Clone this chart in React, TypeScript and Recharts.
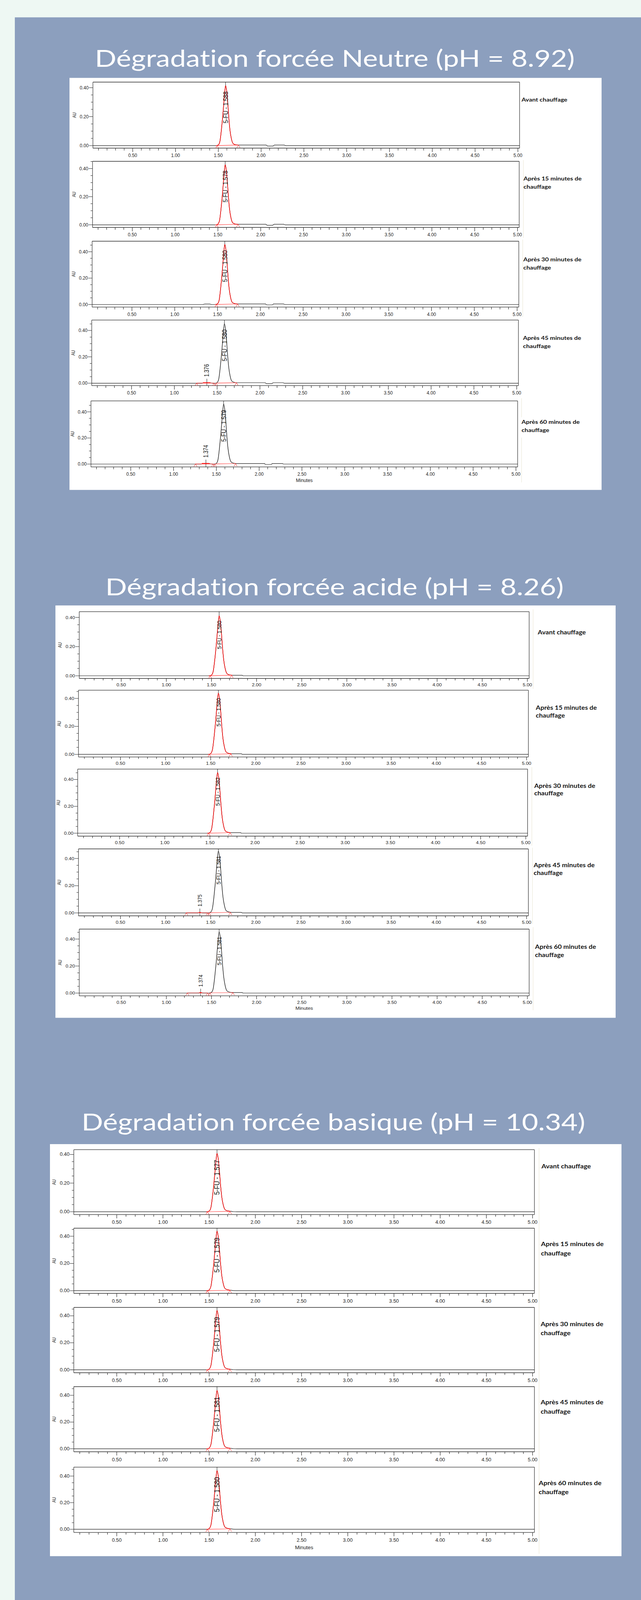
import React from 'react';
import { ComposedChart, Line, XAxis, YAxis, ReferenceLine, Scatter } from 'recharts';

// ---------------- data ----------------
const X_DOMAIN: [number, number] = [0.035, 5.02];
const X_TICKS = [0.1, 0.2, 0.3, 0.4, 0.5, 0.6, 0.7, 0.8, 0.9, 1.0, 1.1, 1.2, 1.3, 1.4, 1.5, 1.6, 1.7, 1.8, 1.9, 2.0,
  2.1, 2.2, 2.3, 2.4, 2.5, 2.6, 2.7, 2.8, 2.9, 3.0, 3.1, 3.2, 3.3, 3.4, 3.5, 3.6, 3.7, 3.8, 3.9, 4.0,
  4.1, 4.2, 4.3, 4.4, 4.5, 4.6, 4.7, 4.8, 4.9, 5.0];
const X_MAJOR = [0.5, 1, 1.5, 2, 2.5, 3, 3.5, 4, 4.5, 5];
const X_LABELS = ['0.50', '1.00', '1.50', '2.00', '2.50', '3.00', '3.50', '4.00', '4.50', '5.00'];
const Y_TICKS = [0, 0.05, 0.1, 0.15, 0.2, 0.25, 0.3, 0.35, 0.4, 0.45];
const Y_MAJOR = [0, 0.2, 0.4];
const Y_LABELS = ['0.00', '0.20', '0.40'];

const TITLES = [
  'Dégradation forcée Neutre (pH = 8.92)',
  'Dégradation forcée acide (pH = 8.26)',
  'Dégradation forcée basique (pH = 10.34)',
];
const CONDITIONS = [
  ['Avant chauffage'],
  ['Après 15 minutes de', 'chauffage'],
  ['Après 30 minutes de', 'chauffage'],
  ['Après 45 minutes de', 'chauffage'],
  ['Après 60 minutes de', 'chauffage'],
];

const APEX_T = 1.585;
const PEAK_T = [1.47, 1.487, 1.505, 1.52, 1.536, 1.551, 1.565, 1.577, 1.585, 1.597, 1.611, 1.622, 1.636, 1.652, 1.672, 1.70, 1.73];

const S1_PK = [
  [0, 0.001, 0.008, 0.033, 0.108, 0.199, 0.298, 0.381, 0.414, 0.381, 0.290, 0.199, 0.108, 0.050, 0.015, 0.006, 0.004],
  [0, 0.001, 0.009, 0.034, 0.111, 0.205, 0.307, 0.393, 0.427, 0.393, 0.299, 0.205, 0.111, 0.051, 0.015, 0.006, 0.004],
  [0, 0.001, 0.009, 0.036, 0.119, 0.219, 0.328, 0.420, 0.456, 0.420, 0.319, 0.219, 0.119, 0.055, 0.016, 0.007, 0.004],
  [0, 0.001, 0.009, 0.036, 0.118, 0.217, 0.325, 0.416, 0.452, 0.416, 0.316, 0.217, 0.118, 0.054, 0.016, 0.007, 0.004],
  [0, 0.001, 0.009, 0.037, 0.120, 0.221, 0.331, 0.423, 0.460, 0.423, 0.322, 0.221, 0.120, 0.055, 0.017, 0.007, 0.004],
];
const S2_PK = [
  [0, 0.001, 0.008, 0.033, 0.107, 0.197, 0.296, 0.378, 0.411, 0.378, 0.288, 0.197, 0.107, 0.049, 0.015, 0.006, 0.004],
  [0, 0.001, 0.009, 0.035, 0.114, 0.210, 0.315, 0.403, 0.438, 0.403, 0.307, 0.210, 0.114, 0.053, 0.016, 0.007, 0.004],
  [0, 0.001, 0.009, 0.036, 0.118, 0.217, 0.325, 0.416, 0.452, 0.416, 0.316, 0.217, 0.118, 0.054, 0.016, 0.007, 0.004],
  [0, 0.001, 0.009, 0.036, 0.118, 0.218, 0.328, 0.419, 0.455, 0.419, 0.319, 0.218, 0.118, 0.055, 0.016, 0.007, 0.004],
  [0, 0.001, 0.009, 0.036, 0.118, 0.217, 0.326, 0.417, 0.453, 0.417, 0.317, 0.217, 0.118, 0.054, 0.016, 0.007, 0.004],
];
const S3_PK = [
  [0, 0.001, 0.008, 0.033, 0.106, 0.196, 0.294, 0.375, 0.408, 0.375, 0.286, 0.196, 0.106, 0.049, 0.015, 0.006, 0.004],
  [0, 0.001, 0.009, 0.035, 0.114, 0.210, 0.315, 0.403, 0.438, 0.403, 0.307, 0.210, 0.114, 0.053, 0.016, 0.007, 0.004],
  [0, 0.001, 0.009, 0.035, 0.114, 0.211, 0.317, 0.405, 0.440, 0.405, 0.308, 0.211, 0.114, 0.053, 0.016, 0.007, 0.004],
  [0, 0.001, 0.009, 0.035, 0.114, 0.210, 0.315, 0.402, 0.437, 0.402, 0.306, 0.210, 0.114, 0.052, 0.016, 0.007, 0.004],
  [0, 0.001, 0.009, 0.035, 0.115, 0.212, 0.318, 0.406, 0.441, 0.406, 0.309, 0.212, 0.115, 0.053, 0.016, 0.007, 0.004],
];
const S1_APEX = [0.414, 0.427, 0.456, 0.452, 0.460];
const S2_APEX = [0.411, 0.438, 0.452, 0.455, 0.453];
const S3_APEX = [0.408, 0.438, 0.440, 0.437, 0.441];
const S1_NAMES = ['5-FU - 1.588', '5-FU - 1.578', '5-FU - 1.580', '5-FU - 1.580', '5-FU - 1.579'];
const S2_NAMES = ['5-FU - 1.580', '5-FU - 1.580', '5-FU - 1.582', '5-FU - 1.581', '5-FU - 1.581'];
const S3_NAMES = ['5-FU - 1.577', '5-FU - 1.579', '5-FU - 1.579', '5-FU - 1.581', '5-FU - 1.580'];

const S1_PRE = [[0.035, 0], [1.45, 0]];
const S1_PRE3 = [[0.035, 0], [1.33, 0], [1.35, 0.003], [1.41, 0.003], [1.43, 0], [1.45, 0]];
const S1_IMP_PRE = [[0.035, 0], [1.32, 0], [1.345, 0.004], [1.38, 0.005], [1.415, 0.004], [1.44, 0.001], [1.455, 0]];
const S1_POST = [[1.75, 0.004], [2.06, 0.004], [2.075, -0.003], [2.14, -0.003], [2.155, 0.004], [2.27, 0.004], [2.285, 0], [5.02, 0]];
const S2_PRE = [[0.035, 0], [1.45, 0]];
const S2_IMP_PRE = [[0.035, 0], [1.36, 0], [1.375, 0.003], [1.39, 0.002], [1.41, 0], [1.45, 0]];
const S2_POST = [[1.75, 0.004], [1.84, 0.004], [1.85, 0], [5.02, 0]];
const S3_PRE = [[0.035, 0], [1.45, 0]];
const S3_POST = [[1.76, 0.001], [1.80, 0], [5.02, 0]];

// integration baselines (red) per panel: list of [start, end]
const S1_BASES = [
  [[[1.487, 0], [1.735, 0.004]]],
  [[[1.487, 0], [1.735, 0.004]]],
  [[[1.487, 0], [1.735, 0.004]]],
  [[[1.26, 0.001], [1.465, 0.001]], [[1.488, 0.001], [1.726, 0.004]]],
  [[[1.256, 0.001], [1.462, 0.001]], [[1.482, 0.001], [1.724, 0.004]]],
];
const S2_BASES = [
  [[[1.486, 0], [1.723, 0.004]]],
  [[[1.486, 0], [1.723, 0.004]]],
  [[[1.486, 0], [1.723, 0.004]]],
  [[[1.229, 0.001], [1.466, 0.001]], [[1.483, 0.001], [1.718, 0.004]]],
  [[[1.232, 0.001], [1.458, 0.001]], [[1.482, 0.001], [1.737, 0.004]]],
];
const S3_BASES = [
  [[[1.481, 0], [1.725, 0.003]]],
  [[[1.481, 0], [1.725, 0.003]]],
  [[[1.481, 0], [1.725, 0.003]]],
  [[[1.481, 0], [1.725, 0.003]]],
  [[[1.481, 0], [1.725, 0.003]]],
];
// impurity peaks: time, line top, label, red segment
const S1_IMP = [null, null, null,
  { t: 1.38, top: 0.034, name: '1.376', seg: [[1.335, 0.004], [1.42, 0.004]] },
  { t: 1.378, top: 0.034, name: '1.374', seg: [[1.33, 0.004], [1.42, 0.004]] }];
const S2_IMP = [null, null, null,
  { t: 1.38, top: 0.032, name: '1.375', seg: [[1.368, 0.003], [1.392, 0.003]] },
  { t: 1.38, top: 0.032, name: '1.374', seg: [[1.368, 0.003], [1.392, 0.003]] }];
const S3_IMP = [null, null, null, null, null];
const RED_PEAK = [
  [true, true, true, false, false],
  [true, true, true, false, false],
  [true, true, true, true, true],
];

// ---------------- layout (positions / sizes / styles) ----------------
const S1_LAYOUT = [
  { x: 238, y: 251, w: 1093, h: 201.7, ymin: -0.0174, ymax: 0.438 },
  { x: 237.4, y: 493.3, w: 1093, h: 202, ymin: -0.0186, ymax: 0.451 },
  { x: 236.4, y: 736.6, w: 1093, h: 201.4, ymin: -0.0199, ymax: 0.48 },
  { x: 235.4, y: 978.2, w: 1093, h: 200.3, ymin: -0.018, ymax: 0.479 },
  { x: 233.3, y: 1224.6, w: 1093, h: 201.9, ymin: -0.0223, ymax: 0.484 },
];
const S2_LAYOUT = [
  { x: 202.6, y: 1869, w: 1152.5, h: 204, ymin: -0.018, ymax: 0.4395 },
  { x: 201.1, y: 2109, w: 1152.5, h: 204, ymin: -0.0187, ymax: 0.459 },
  { x: 199.1, y: 2349.7, w: 1152.5, h: 204.9, ymin: -0.0217, ymax: 0.4775 },
  { x: 200.6, y: 2593.9, w: 1152.5, h: 204.4, ymin: -0.0214, ymax: 0.4705 },
  { x: 202.6, y: 2838.6, w: 1152.5, h: 204, ymin: -0.0208, ymax: 0.4737 },
];
const S3_LAYOUT = [
  { x: 188.8, y: 3513.3, w: 1180, h: 198.4, ymin: -0.0199, ymax: 0.4336 },
  { x: 189.3, y: 3753, w: 1180, h: 199, ymin: -0.0195, ymax: 0.459 },
  { x: 189, y: 3994.9, w: 1180, h: 199.6, ymin: -0.022, ymax: 0.462 },
  { x: 188.8, y: 4237.3, w: 1180, h: 199, ymin: -0.0223, ymax: 0.4654 },
  { x: 188.8, y: 4483.4, w: 1180, h: 199.6, ymin: -0.0239, ymax: 0.467 },
];
const STYLES = [
  { tfs: 15, sx: 0.78, majT: 12, minT: 7, xDy: 22, lfs: 17.3, loff: 18, ifs: 15.6, auDx: 47, minDy: 41 },
  { tfs: 14, sx: 0.88, majT: 10, minT: 6, xDy: 20, lfs: 15.5, loff: 15, ifs: 14.8, auDx: 49, minDy: 38 },
  { tfs: 15, sx: 0.85, majT: 11.5, minT: 6.5, xDy: 24, lfs: 19, loff: 20, ifs: 15, auDx: 50.5, minDy: 46.5 },
];
const SECTION_BOX = [
  { x: 178, y: 237.5, w: 1363, h: 1259.5, titleX: 243, titleY: 203.6, titleFs: 72.6 },
  { x: 142, y: 1850, w: 1435.3, h: 1260, titleX: 270, titleY: 1819.4, titleFs: 72.6 },
  { x: 128, y: 3495.5, w: 1464, h: 1259, titleX: 209, titleY: 3454.6, titleFs: 72.4 },
];
const COND_POS = [
  [{ x: 1336, ys: [310.5] }, { x: 1341, ys: [551, 576.6] }, { x: 1340.6, ys: [798, 824] }, { x: 1339.8, ys: [1038.5, 1064] }, { x: 1336, ys: [1295, 1320.5] }],
  [{ x: 1377.5, ys: [1938] }, { x: 1372.6, ys: [2169, 2193] }, { x: 1368.5, ys: [2407, 2430] }, { x: 1367, ys: [2650, 2674] }, { x: 1370.5, ys: [2899.7, 2923.8] }],
  [{ x: 1387, ys: [3570.4] }, { x: 1385.7, ys: [3808, 3835.8] }, { x: 1384.9, ys: [4052, 4080] }, { x: 1384.9, ys: [4290.8, 4319.4] }, { x: 1380, ys: [4537.6, 4565.4] }],
];
const COND_FS = [16.3, 17.1, 17.6];
const FAINT_LINES = [
  [1340.6, 489, 727], [1339, 732, 968], [1336, 1217, 1275], [1336, 1337, 1474],
  [1365.6, 1862, 2105], [1362.4, 2344, 2584], [1364, 2590, 2823], [1365.6, 2833, 3087],
  [1380.8, 3508, 4748],
];

const PAGE_W = 1642, PAGE_H = 4889;
const BLUE = '#8c9fbe';
const MINT = '#eef8f3';
const TICK_FONT = '"Liberation Sans", Arial, sans-serif';
const TITLE_FONT = "Lato, 'Open Sans', sans-serif";
const YW = 80, MT = 8, MR = 8, XH = 56;
const INK = '#2a2a2a';
const RED = '#ff1010';

if (typeof document !== 'undefined') {
  document.documentElement.style.overflow = 'hidden';
  document.documentElement.style.background = BLUE;
  document.body.style.margin = '0';
  document.body.style.background = BLUE;
  document.body.style.overflow = 'hidden';
}

const toPts = (arr: number[][]) => arr.map(([t, v]) => ({ t, v }));

// ---------------- components ----------------
function XTick(props: any) {
  const { x, y, payload, st } = props;
  const v = payload.value;
  const idx = X_MAJOR.findIndex((m) => Math.abs(m - v) < 1e-6);
  const major = idx >= 0;
  return (
    <g>
      <line x1={x} x2={x} y1={y} y2={y + (major ? st.majT : st.minT)} stroke={INK} strokeWidth={1.2} />
      {major && (
        <text transform={`translate(${x},${y + st.xDy}) scale(${st.sx},1)`} textAnchor="middle" dominantBaseline="central"
          fontFamily={TICK_FONT} fontSize={st.tfs} fill="#222">{X_LABELS[idx]}</text>
      )}
    </g>
  );
}

function YTick(props: any) {
  const { x, y, payload, st } = props;
  const v = payload.value;
  const idx = Y_MAJOR.findIndex((m) => Math.abs(m - v) < 1e-6);
  const major = idx >= 0;
  return (
    <g>
      <line x1={x - (major ? 10 : 5)} x2={x} y1={y} y2={y} stroke={INK} strokeWidth={1.2} />
      {major && (
        <text transform={`translate(${x - 11},${y}) scale(${st.sx},1)`} textAnchor="end" dominantBaseline="central"
          fontFamily={TICK_FONT} fontSize={st.tfs} fill="#222">{Y_LABELS[idx]}</text>
      )}
    </g>
  );
}

function Caret(props: any) {
  const { cx, cy } = props;
  if (cx == null || cy == null) return null;
  return <path d={`M${cx - 4},${cy + 8} L${cx},${cy} L${cx + 4},${cy + 8}`} stroke={RED} strokeWidth={1} fill="none" />;
}

function Panel({ lay, st, si, pi }: any) {
  const W = YW + lay.w + MR;
  const H = MT + lay.h + XH;
  const yTicks = Y_TICKS.filter((t) => t <= lay.ymax + 1e-9);
  const pk = [S1_PK, S2_PK, S3_PK][si][pi];
  const apex = [S1_APEX, S2_APEX, S3_APEX][si][pi];
  const name = [S1_NAMES, S2_NAMES, S3_NAMES][si][pi];
  const pre = si === 0 ? (pi === 2 ? S1_PRE3 : pi >= 3 ? S1_IMP_PRE : S1_PRE) : si === 1 ? (pi >= 3 ? S2_IMP_PRE : S2_PRE) : S3_PRE;
  const post = [S1_POST, S2_POST, S3_POST][si];
  const bases = [S1_BASES, S2_BASES, S3_BASES][si][pi];
  const imp: any = [S1_IMP, S2_IMP, S3_IMP][si][pi];
  const red = RED_PEAK[si][pi];
  const peakPts = PEAK_T.map((t, i) => ({ t, v: pk[i] }));
  const trace = [...toPts(pre), ...peakPts, ...toPts(post)];
  const marks = bases.flatMap((b: number[][]) => toPts(b));
  const showMinutes = pi === 4;

  return (
    <div style={{ position: 'absolute', left: lay.x - YW, top: lay.y - MT, width: W, height: H }}>
      <ComposedChart width={W} height={H} margin={{ top: MT, right: MR, bottom: 0, left: 0 }}>
        <XAxis type="number" dataKey="t" domain={X_DOMAIN} allowDataOverflow ticks={X_TICKS} interval={0}
          tickLine={false} tickSize={0} tickMargin={0} height={XH}
          axisLine={{ stroke: INK, strokeWidth: 1.6 }}
          tick={(p: any) => <XTick {...p} st={st} />}
          label={showMinutes ? {
            content: (p: any) => {
              const vb = p.viewBox || {};
              return (
                <text transform={`translate(${vb.x + vb.width / 2},${vb.y + st.minDy}) scale(${st.sx + 0.04},1)`}
                  textAnchor="middle" dominantBaseline="central" fontFamily={TICK_FONT} fontSize={st.tfs} fill="#222">Minutes</text>
              );
            },
          } : undefined}
        />
        <YAxis type="number" domain={[lay.ymin, lay.ymax]} allowDataOverflow ticks={yTicks} interval={0}
          tickLine={false} tickSize={0} tickMargin={0} width={YW}
          axisLine={{ stroke: INK, strokeWidth: 1.2 }}
          tick={(p: any) => <YTick {...p} st={st} />}
          label={{
            content: (p: any) => {
              const vb = p.viewBox || {};
              return (
                <text transform={`translate(${vb.x + vb.width - st.auDx},${vb.y + vb.height / 2}) rotate(-90)`}
                  textAnchor="middle" dominantBaseline="central" fontFamily={TICK_FONT} fontSize={12} fill="#222">AU</text>
              );
            },
          }}
        />
        <ReferenceLine y={lay.ymax} stroke={INK} strokeWidth={1.6} />
        <ReferenceLine x={X_DOMAIN[1]} stroke={INK} strokeWidth={1.2} />
        <ReferenceLine segment={[{ x: APEX_T, y: apex }, { x: APEX_T, y: lay.ymax }]} stroke="#000" strokeWidth={1} />
        {imp && (
          <ReferenceLine segment={[{ x: imp.t, y: lay.ymin }, { x: imp.t, y: imp.top }]} stroke="#000" strokeWidth={1} />
        )}
        <Line data={trace} dataKey="v" type="monotone" stroke="#1a1a1a" strokeWidth={1.4} dot={false} activeDot={false} isAnimationActive={false} />
        {red && (
          <Line data={peakPts} dataKey="v" type="monotone" stroke={RED} strokeWidth={1.6} dot={false} activeDot={false} isAnimationActive={false} />
        )}
        {bases.map((b: number[][], i: number) => (
          <Line key={'b' + i} data={toPts(b)} dataKey="v" type="linear" stroke={RED} strokeWidth={1.1} dot={false} activeDot={false} isAnimationActive={false} />
        ))}
        {imp && (
          <Line data={toPts(imp.seg)} dataKey="v" type="linear" stroke={RED} strokeWidth={2.6} dot={false} activeDot={false} isAnimationActive={false} />
        )}
        <Scatter data={marks} dataKey="v" isAnimationActive={false} shape={(p: any) => <Caret {...p} />} />
        <Scatter data={[{ t: APEX_T, v: apex }]} dataKey="v" isAnimationActive={false}
          shape={(p: any) => (
            <text transform={`translate(${p.cx},${p.cy + st.loff}) rotate(-90)`} textAnchor="end" dominantBaseline="central"
              fontFamily={TICK_FONT} fontSize={st.lfs} fill="#111">{name}</text>
          )}
        />
        {imp && (
          <Scatter data={[{ t: imp.t, v: imp.top }]} dataKey="v" isAnimationActive={false}
            shape={(p: any) => (
              <text transform={`translate(${p.cx},${p.cy - 6}) rotate(-90)`} textAnchor="start" dominantBaseline="central"
                fontFamily={TICK_FONT} fontSize={st.ifs} fill="#111">{imp.name}</text>
            )}
          />
        )}
      </ComposedChart>
    </div>
  );
}

function viewportHeight() {
  if (typeof window === 'undefined') return PAGE_H;
  const vh = window.innerHeight;
  if (!vh || vh < 1000 || vh >= PAGE_H) return PAGE_H;
  return vh;
}

export default function App() {
  const layouts = [S1_LAYOUT, S2_LAYOUT, S3_LAYOUT];
  const vh = viewportHeight();
  const k = vh / PAGE_H;
  return (
    <div style={{ position: 'relative', width: PAGE_W, height: vh, overflow: 'hidden', background: BLUE }}>
      <div style={{ position: 'absolute', left: 0, top: 0, width: PAGE_W, height: PAGE_H, background: MINT,
        transform: `scale(1, ${k})`, transformOrigin: '0 0' }}>
        <div style={{ position: 'absolute', left: 38, top: 53, width: PAGE_W - 38, height: PAGE_H - 53, background: BLUE }} />
        {SECTION_BOX.map((b, i) => (
          <div key={'box' + i} style={{ position: 'absolute', left: b.x, top: b.y, width: b.w, height: b.h, background: '#ffffff' }} />
        ))}
        <svg width={PAGE_W} height={PAGE_H} style={{ position: 'absolute', left: 0, top: 0 }}>
          {SECTION_BOX.map((b, i) => (
            <text key={'t' + i} x={b.titleX} y={b.titleY} fontFamily={TITLE_FONT} fontSize={b.titleFs} fill="#ffffff"
              style={{ fontVariantLigatures: 'none' }}>{TITLES[i]}</text>
          ))}
          {FAINT_LINES.map(([x, y1, y2], i) => (
            <line key={'f' + i} x1={x} x2={x} y1={y1} y2={y2} stroke="#efecdf" strokeWidth={1.5} />
          ))}
          {COND_POS.map((sec, si) => sec.map((c, pi) => CONDITIONS[pi].map((line, li) => (
            <text key={`c${si}-${pi}-${li}`} x={c.x} y={c.ys[li]} fontFamily={TITLE_FONT} fontWeight={700}
              fontSize={COND_FS[si]} fill="#161616">{line}</text>
          ))))}
        </svg>
        {layouts.map((secLay, si) => secLay.map((lay, pi) => (
          <Panel key={`p${si}-${pi}`} lay={lay} st={STYLES[si]} si={si} pi={pi} />
        )))}
      </div>
    </div>
  );
}
